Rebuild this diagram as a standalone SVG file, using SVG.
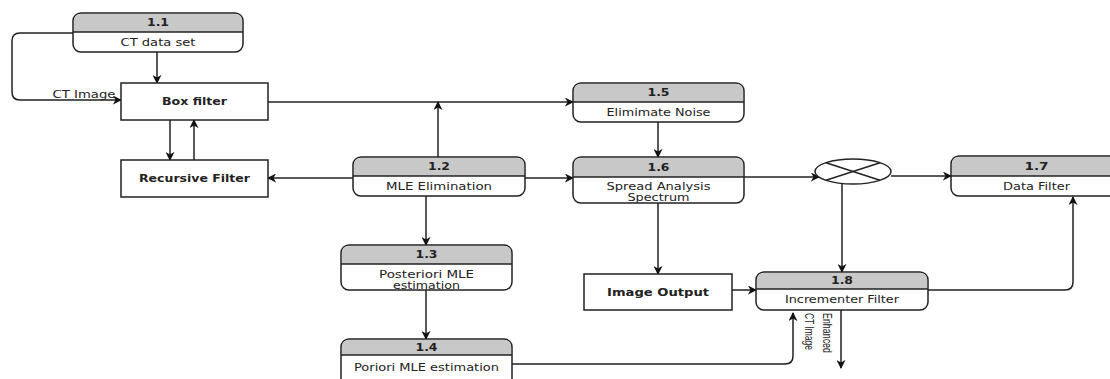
<svg xmlns="http://www.w3.org/2000/svg" width="1110" height="379" viewBox="0 0 1110 379">
<style>
.box{fill:#fff;stroke:#222;stroke-width:1.5}
.hdr{fill:#c8c8c8;stroke:none}
.div{stroke:#222;stroke-width:1.5}
.t{font-family:"DejaVu Sans",sans-serif;font-size:10px;fill:#222;text-anchor:middle}
.b{font-weight:bold}
.v{font-family:"Liberation Sans",Arial,sans-serif;font-size:12px;fill:#222}
.e{fill:none;stroke:#222;stroke-width:1.5}
.a{marker-end:url(#ah)}
</style>
<defs>
<marker id="ah" viewBox="0 0 10 10" refX="9" refY="5" markerWidth="9" markerHeight="9" markerUnits="userSpaceOnUse" orient="auto">
<path d="M0,0 L10,5 L0,10 L3,5 z" fill="#111"/>
</marker>
</defs>
<rect width="1110" height="379" fill="#fff"/>

<g id="connectors">
<path class="e a" d="M157,52 V83"/>
<path class="e a" d="M73,33 H20 Q12,33 12,41 V92 Q12,100 20,100 H121"/>
<path class="e a" d="M170,120 V160"/>
<path class="e a" d="M194,160 V120"/>
<path class="e a" d="M268,102 H573"/>
<path class="e a" d="M438,157 V102"/>
<path class="e a" d="M353,178 H268"/>
<path class="e a" d="M525,178 H573"/>
<path class="e a" d="M658,122 V157"/>
<path class="e a" d="M744,177 H819"/>
<path class="e a" d="M891,176 H951"/>
<path class="e a" d="M842,183 V272"/>
<path class="e a" d="M426,196 V245"/>
<path class="e a" d="M426,290 V339"/>
<path class="e a" d="M658,203 V274"/>
<path class="e a" d="M732,290 H756"/>
<path class="e a" d="M928,290 H1065 Q1073,290 1073,282 V197"/>
<path class="e a" d="M512,364 H785 Q793,364 793,356 V313"/>
<path class="e a" d="M841,310 V368"/>
<text class="t" x="84" y="98" textLength="63" lengthAdjust="spacingAndGlyphs">CT Image</text>
<text class="v" transform="translate(823,313) rotate(90)" textLength="40" lengthAdjust="spacingAndGlyphs">Enhanced</text>
<text class="v" transform="translate(805,313) rotate(90)" textLength="37" lengthAdjust="spacingAndGlyphs">CT Image</text>
</g>

<g id="n11">
<rect class="box" x="73" y="13" width="170" height="39" rx="8"/>
<path class="hdr" d="M74,32 V21 Q74,14 81,14 H235 Q242,14 242,21 V32 Z"/>
<line class="div" x1="73" y1="32" x2="243" y2="32"/>
<text class="t b" x="158" y="26" textLength="22" lengthAdjust="spacingAndGlyphs">1.1</text>
<text class="t" x="158" y="45.5" textLength="75" lengthAdjust="spacingAndGlyphs">CT data set</text>
</g>

<g id="boxfilter">
<rect class="box" x="121" y="83" width="147" height="37"/>
<text class="t b" x="194.5" y="105" textLength="65" lengthAdjust="spacingAndGlyphs">Box filter</text>
</g>

<g id="recursive">
<rect class="box" x="121" y="160" width="147" height="37"/>
<text class="t b" x="194.5" y="182" textLength="111" lengthAdjust="spacingAndGlyphs">Recursive Filter</text>
</g>

<g id="n12">
<rect class="box" x="353" y="157" width="172" height="39" rx="8"/>
<path class="hdr" d="M354,176 V165 Q354,158 361,158 H517 Q524,158 524,165 V176 Z"/>
<line class="div" x1="353" y1="176" x2="525" y2="176"/>
<text class="t b" x="439" y="170" textLength="22" lengthAdjust="spacingAndGlyphs">1.2</text>
<text class="t" x="439" y="189.5" textLength="106" lengthAdjust="spacingAndGlyphs">MLE Elimination</text>
</g>

<g id="n13">
<rect class="box" x="341" y="245" width="171" height="45" rx="8"/>
<path class="hdr" d="M342,264 V253 Q342,246 349,246 H504 Q511,246 511,253 V264 Z"/>
<line class="div" x1="341" y1="264" x2="512" y2="264"/>
<text class="t b" x="426.5" y="258" textLength="22" lengthAdjust="spacingAndGlyphs">1.3</text>
<text class="t" x="426.5" y="278" textLength="95" lengthAdjust="spacingAndGlyphs">Posteriori MLE</text>
<text class="t" x="426.5" y="288.5" textLength="67" lengthAdjust="spacingAndGlyphs">estimation</text>
</g>

<g id="n14">
<rect class="box" x="341" y="339" width="171" height="52" rx="8"/>
<path class="hdr" d="M342,355 V347 Q342,340 349,340 H504 Q511,340 511,347 V355 Z"/>
<line class="div" x1="341" y1="355" x2="512" y2="355"/>
<text class="t b" x="426.5" y="351" textLength="22" lengthAdjust="spacingAndGlyphs">1.4</text>
<text class="t" x="426.5" y="371" textLength="145" lengthAdjust="spacingAndGlyphs">Poriori MLE estimation</text>
</g>

<g id="n15">
<rect class="box" x="573" y="83" width="171" height="39" rx="8"/>
<path class="hdr" d="M574,102 V91 Q574,84 581,84 H736 Q743,84 743,91 V102 Z"/>
<line class="div" x1="573" y1="102" x2="744" y2="102"/>
<text class="t b" x="658.5" y="96" textLength="22" lengthAdjust="spacingAndGlyphs">1.5</text>
<text class="t" x="658.5" y="115.5" textLength="104" lengthAdjust="spacingAndGlyphs">Elimimate Noise</text>
</g>

<g id="n16">
<rect class="box" x="573" y="157" width="171" height="46" rx="8"/>
<path class="hdr" d="M574,177 V165 Q574,158 581,158 H736 Q743,158 743,165 V177 Z"/>
<line class="div" x1="573" y1="177" x2="744" y2="177"/>
<text class="t b" x="658.5" y="170.5" textLength="22" lengthAdjust="spacingAndGlyphs">1.6</text>
<text class="t" x="658.5" y="190" textLength="104" lengthAdjust="spacingAndGlyphs">Spread Analysis</text>
<text class="t" x="658.5" y="201" textLength="62" lengthAdjust="spacingAndGlyphs">Spectrum</text>
</g>

<g id="mixer">
<ellipse cx="853" cy="171.5" rx="38" ry="12.5" fill="#fff" stroke="#222" stroke-width="1.5"/>
<line class="div" x1="826" y1="162.7" x2="880" y2="180.3"/>
<line class="div" x1="826" y1="180.3" x2="880" y2="162.7"/>
</g>

<g id="n17">
<rect class="box" x="951" y="156" width="171" height="40" rx="8"/>
<path class="hdr" d="M952,176 V164 Q952,157 959,157 H1114 Q1121,157 1121,164 V176 Z"/>
<line class="div" x1="951" y1="176" x2="1122" y2="176"/>
<text class="t b" x="1036.5" y="169.5" textLength="24" lengthAdjust="spacingAndGlyphs">1.7</text>
<text class="t" x="1036.5" y="189.5" textLength="67" lengthAdjust="spacingAndGlyphs">Data Filter</text>
</g>

<g id="imageoutput">
<rect class="box" x="584" y="274" width="148" height="36"/>
<text class="t b" x="658" y="295.5" textLength="102" lengthAdjust="spacingAndGlyphs">Image Output</text>
</g>

<g id="n18">
<rect class="box" x="756" y="272" width="172" height="38" rx="8"/>
<path class="hdr" d="M757,289 V280 Q757,273 764,273 H920 Q927,273 927,280 V289 Z"/>
<line class="div" x1="756" y1="289" x2="928" y2="289"/>
<text class="t b" x="842" y="284" textLength="22" lengthAdjust="spacingAndGlyphs">1.8</text>
<text class="t" x="842" y="303" textLength="114" lengthAdjust="spacingAndGlyphs">Incrementer Filter</text>
</g>
</svg>
